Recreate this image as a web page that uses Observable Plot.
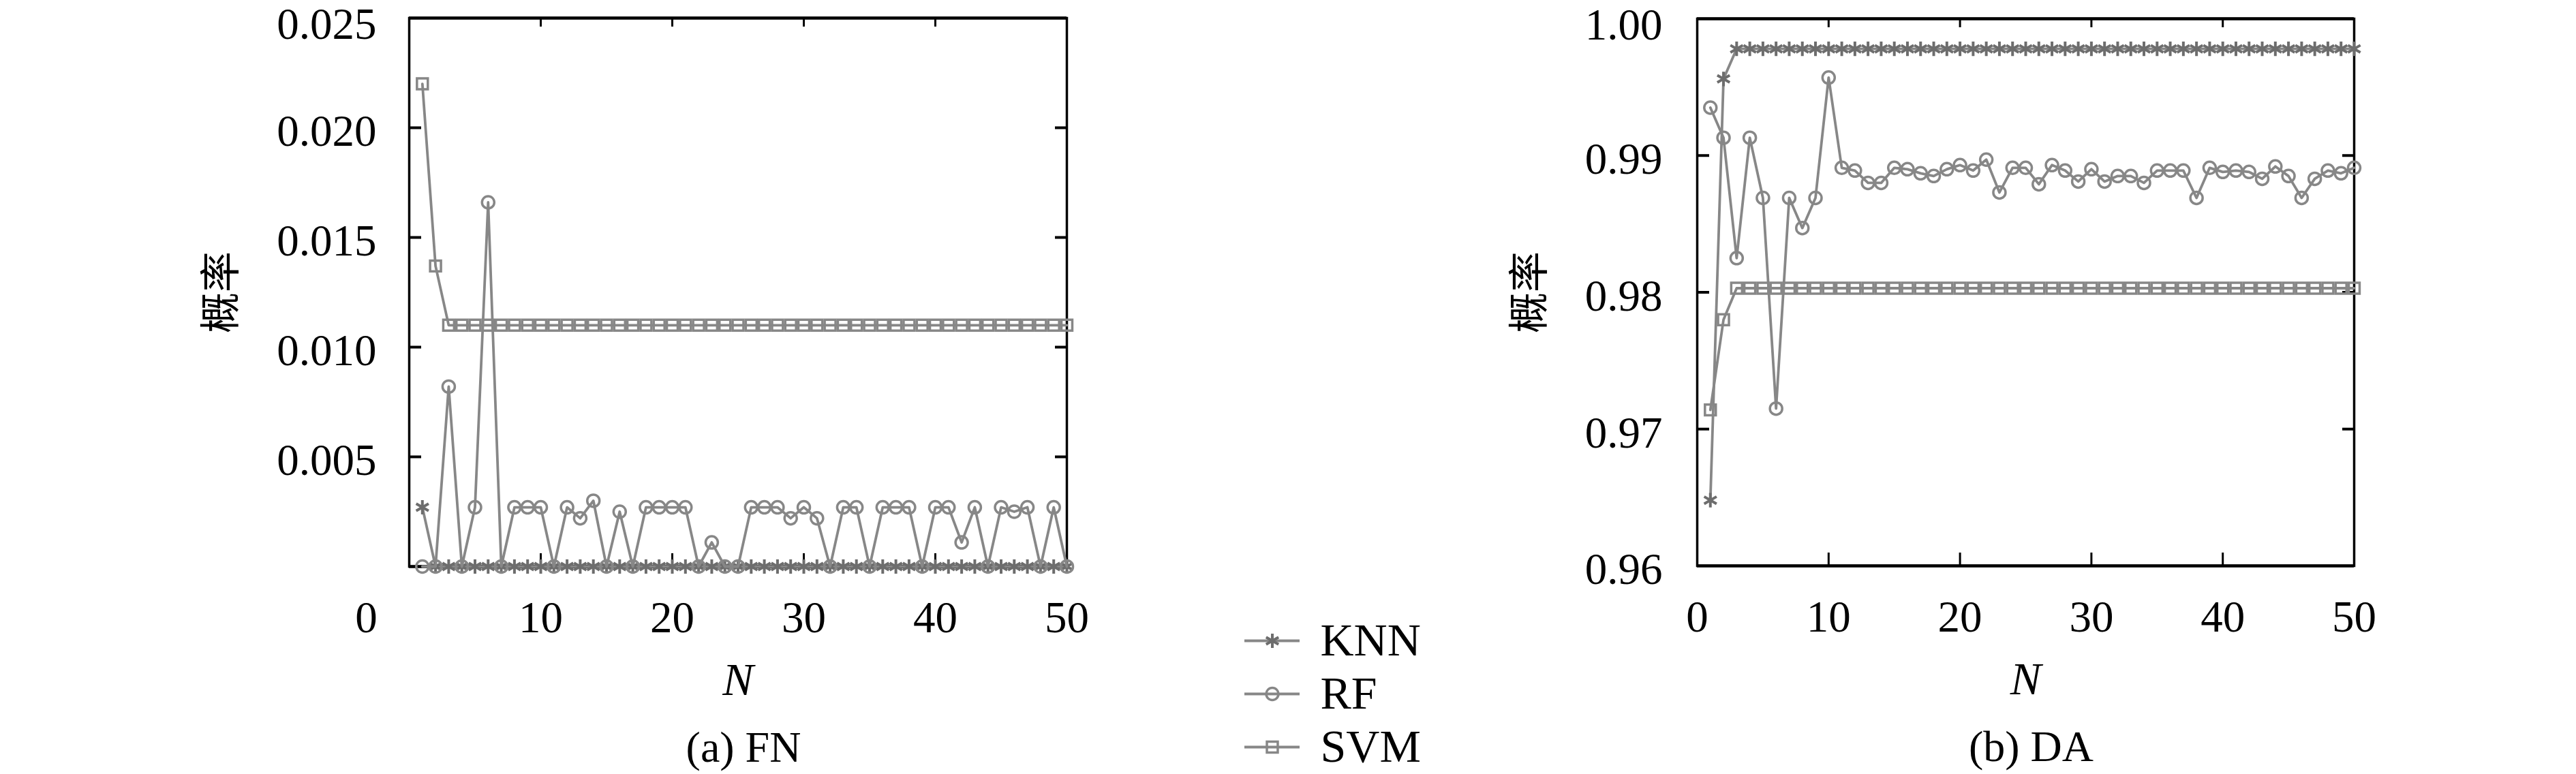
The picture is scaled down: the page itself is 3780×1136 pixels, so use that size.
<!DOCTYPE html>
<html><head><meta charset="utf-8">
<script src="https://cdn.jsdelivr.net/npm/d3@7"></script>
<script src="https://cdn.jsdelivr.net/npm/@observablehq/plot@0.6"></script>
<style>
html,body{margin:0;padding:0;background:#fff;}
#wrap{position:relative;width:3780px;height:1136px;overflow:hidden;background:#fff;color:#000;}
#wrap > svg{position:absolute;}
</style></head><body><div id="wrap"></div>
<script>
// ---------------- data ----------------
const N = [1,2,3,4,5,6,7,8,9,10,11,12,13,14,15,16,17,18,19,20,21,22,23,24,25,
           26,27,28,29,30,31,32,33,34,35,36,37,38,39,40,41,42,43,44,45,46,47,48,49,50];
const seriesNames = ["KNN", "RF", "SVM"];

// (a) FN
const fnKNN = [0.0027,0,0,0,0,0,0,0,0,0,
               0,0,0,0,0,0,0,0,0,0,
               0,0,0,0,0,0,0,0,0,0,
               0,0,0,0,0,0,0,0,0,0,
               0,0,0,0,0,0,0,0,0,0];
const fnRF = [0,0,0.0082,0,0.0027,0.0166,0,0.0027,0.0027,0.0027,
              0,0.0027,0.0022,0.0030,0,0.0025,0,0.0027,0.0027,0.0027,
              0.0027,0,0.0011,0,0,0.0027,0.0027,0.0027,0.0022,0.0027,
              0.0022,0,0.0027,0.0027,0,0.0027,0.0027,0.0027,0,0.0027,
              0.0027,0.0011,0.0027,0,0.0027,0.0025,0.0027,0,0.0027,0];
const fnSVM = [0.0220,0.0137,0.0110,0.0110,0.0110,0.0110,0.0110,0.0110,0.0110,0.0110,
               0.0110,0.0110,0.0110,0.0110,0.0110,0.0110,0.0110,0.0110,0.0110,0.0110,
               0.0110,0.0110,0.0110,0.0110,0.0110,0.0110,0.0110,0.0110,0.0110,0.0110,
               0.0110,0.0110,0.0110,0.0110,0.0110,0.0110,0.0110,0.0110,0.0110,0.0110,
               0.0110,0.0110,0.0110,0.0110,0.0110,0.0110,0.0110,0.0110,0.0110,0.0110];

// (b) DA
const daKNN = [0.9648,0.9956,0.9978,0.9978,0.9978,0.9978,0.9978,0.9978,0.9978,0.9978,
               0.9978,0.9978,0.9978,0.9978,0.9978,0.9978,0.9978,0.9978,0.9978,0.9978,
               0.9978,0.9978,0.9978,0.9978,0.9978,0.9978,0.9978,0.9978,0.9978,0.9978,
               0.9978,0.9978,0.9978,0.9978,0.9978,0.9978,0.9978,0.9978,0.9978,0.9978,
               0.9978,0.9978,0.9978,0.9978,0.9978,0.9978,0.9978,0.9978,0.9978,0.9978];
const daRF = [0.9935,0.9913,0.9825,0.9913,0.9869,0.9715,0.9869,0.9847,0.9869,0.9957,
              0.9891,0.9889,0.9880,0.9880,0.9891,0.9890,0.9887,0.9885,0.9890,0.9893,
              0.9889,0.9897,0.9873,0.9891,0.9891,0.9879,0.9893,0.9889,0.9881,0.9890,
              0.9881,0.9885,0.9885,0.9880,0.9889,0.9889,0.9889,0.9869,0.9891,0.9888,
              0.9889,0.9888,0.9883,0.9892,0.9885,0.9869,0.9883,0.9889,0.9887,0.9891];
const daSVM = [0.9714,0.9780,0.9803,0.9803,0.9803,0.9803,0.9803,0.9803,0.9803,0.9803,
               0.9803,0.9803,0.9803,0.9803,0.9803,0.9803,0.9803,0.9803,0.9803,0.9803,
               0.9803,0.9803,0.9803,0.9803,0.9803,0.9803,0.9803,0.9803,0.9803,0.9803,
               0.9803,0.9803,0.9803,0.9803,0.9803,0.9803,0.9803,0.9803,0.9803,0.9803,
               0.9803,0.9803,0.9803,0.9803,0.9803,0.9803,0.9803,0.9803,0.9803,0.9803];

const xTickLabels = [0, 10, 20, 30, 40, 50];
const xInnerTicks = [10, 20, 30, 40];
const fnYTicks = [0.005, 0.010, 0.015, 0.020, 0.025];
const daYTicks = [0.96, 0.97, 0.98, 0.99, 1.00];
const yLabel = "概率";
const xLabel = "N";
const captions = ["(a) FN", "(b) DA"];

// ---------------- styles ----------------
const SERIF = "'Liberation Serif', 'DejaVu Serif', serif";
const CJK = "'Noto Sans CJK SC', 'Noto Sans CJK JP', sans-serif";
const LINE = "#878787";
const SHIFT = 6;
const markStyle = {
  KNN: {symbol: "asterisk", r: 10, stroke: "#6d6d6d", strokeWidth: 4},
  RF:  {symbol: "circle",   r: 9,  stroke: "#878787", strokeWidth: 3.5},
  SVM: {symbol: "square",   r: 9,  stroke: "#878787", strokeWidth: 3.5}
};

function tidy(vals) {
  const out = [];
  seriesNames.forEach((s, k) => vals[k].forEach((v, i) => out.push({series: s, N: N[i], value: v})));
  return out;
}

function panel(cfg) {
  const rows = tidy(cfg.values);
  const [y0, y1] = cfg.yDomain;
  const innerY = cfg.yTicks.filter(v => v > y0 + 1e-9 && v < y1 - 1e-9);
  const lowLabels = cfg.yTicks.filter(v => v < y1 - 1e-9);
  const topLabels = cfg.yTicks.filter(v => v >= y1 - 1e-9);
  const labelStyle = {anchor: "left", tickSize: 0, tickPadding: cfg.yPad, tickFormat: cfg.yFmt,
    fontSize: 65, fontFamily: SERIF, label: null};
  const marks = [
    Plot.frame({stroke: "black", strokeWidth: 3.5}),
    Plot.ruleY([y1], {stroke: "black", strokeWidth: 4.5}),
    Plot.ruleY([y0], {stroke: "black", strokeWidth: 4.5}),
    // inward ticks
    Plot.axisY(innerY, {anchor: "left", tickSize: -18, strokeWidth: 4, tickFormat: () => "", label: null}),
    Plot.axisY(innerY, {anchor: "right", tickSize: -18, strokeWidth: 4, tickFormat: () => "", label: null}),
    Plot.axisX(xInnerTicks, {anchor: "top", tickSize: -12, strokeWidth: 3, tickFormat: () => "", label: null}),
    Plot.axisX(xInnerTicks, {anchor: "bottom", tickSize: -19, strokeWidth: 3, tickFormat: () => "", label: null}),
    // tick labels
    Plot.axisY(lowLabels, {...labelStyle, dy: 6}),
    Plot.axisY(topLabels, {...labelStyle, dy: 10}),
    Plot.axisX(cfg.xLabelTicks, {anchor: "bottom", tickSize: 0, tickPadding: 50, tickFormat: d3.format("d"),
      fontSize: 65, fontFamily: SERIF, label: null}),
    // axis titles and caption
    Plot.text([yLabel], {text: d => d, frameAnchor: "left", dx: cfg.ylabelDx, rotate: -90,
      textAnchor: "middle", lineAnchor: "middle", fontSize: 60, fontFamily: CJK}),
    Plot.text([xLabel], {text: d => d, frameAnchor: "bottom", dy: 167, textAnchor: "middle", lineAnchor: "middle",
      fontSize: 68, fontStyle: "italic", fontFamily: SERIF}),
    Plot.text([cfg.caption], {text: d => d, frameAnchor: "bottom", dy: 266, dx: 8, textAnchor: "middle", lineAnchor: "middle",
      fontSize: 64, fontFamily: SERIF})
  ];
  if (cfg.extraZero) {
    marks.push(Plot.text([0], {x: d => d, text: d => String(d), frameAnchor: "bottom", dx: -63, dy: 50,
      lineAnchor: "top", textAnchor: "middle", fontSize: 65, fontFamily: SERIF}));
  }
  for (const s of seriesNames) {
    const d = rows.filter(r => r.series === s);
    marks.push(Plot.line(d, {x: "N", y: "value", stroke: LINE, strokeWidth: 3.8}));
    marks.push(Plot.dot(d, {x: "N", y: "value", fill: "none", ...markStyle[s]}));
  }
  const svg = Plot.plot({
    width: cfg.width, height: 1136,
    marginLeft: cfg.marginLeft, marginRight: cfg.marginRight,
    marginTop: cfg.marginTop + SHIFT, marginBottom: 1136 - cfg.bottomY - SHIFT,
    style: {background: "transparent", overflow: "visible", color: "black", fontFamily: SERIF},
    x: {domain: [0, 50], axis: null},
    y: {domain: cfg.yDomain, axis: null},
    marks
  });
  svg.style.left = cfg.left + "px";
  svg.style.top = "0px";
  return svg;
}

const wrap = document.getElementById("wrap");

wrap.appendChild(panel({
  left: 0, width: 1700, marginLeft: 600, marginRight: 1700 - 1565, marginTop: 20, bottomY: 825,
  yDomain: [0, 0.025], yTicks: fnYTicks, yFmt: d3.format(".3f"), yPad: 48,
  xLabelTicks: xInnerTicks.concat([50]), extraZero: true, ylabelDx: -275,
  caption: captions[0], values: [fnKNN, fnRF, fnSVM]
}));

wrap.appendChild(panel({
  left: 1900, width: 1700, marginLeft: 590, marginRight: 1700 - (3454 - 1900), marginTop: 21, bottomY: 824,
  yDomain: [0.96, 1.00], yTicks: daYTicks, yFmt: d3.format(".2f"), yPad: 51,
  xLabelTicks: xTickLabels, extraZero: false, ylabelDx: -245,
  caption: captions[1], values: [daKNN, daRF, daSVM]
}));

// legend
const legend = Plot.plot({
  width: 420, height: 240, marginLeft: 26, marginRight: 420 - 26 - 81, marginTop: 46, marginBottom: 38,
  style: {background: "transparent", overflow: "visible", color: "black"},
  x: {domain: [0, 1], axis: null},
  y: {type: "point", domain: seriesNames, axis: null, padding: 0},
  marks: [
    Plot.ruleY(seriesNames, {y: d => d, x1: 0, x2: 1, stroke: LINE, strokeWidth: 4}),
    ...seriesNames.map(s => Plot.dot([s], {x: () => 0.5, y: d => d, fill: "none", ...markStyle[s]})),
    Plot.text(seriesNames, {x: () => 1, y: d => d, text: d => d, dx: 30, textAnchor: "start", lineAnchor: "middle",
      fontSize: 68, fontFamily: SERIF})
  ]
});
legend.style.left = "1800px";
legend.style.top = (888 + SHIFT) + "px";
wrap.appendChild(legend);
</script>
</body></html>
